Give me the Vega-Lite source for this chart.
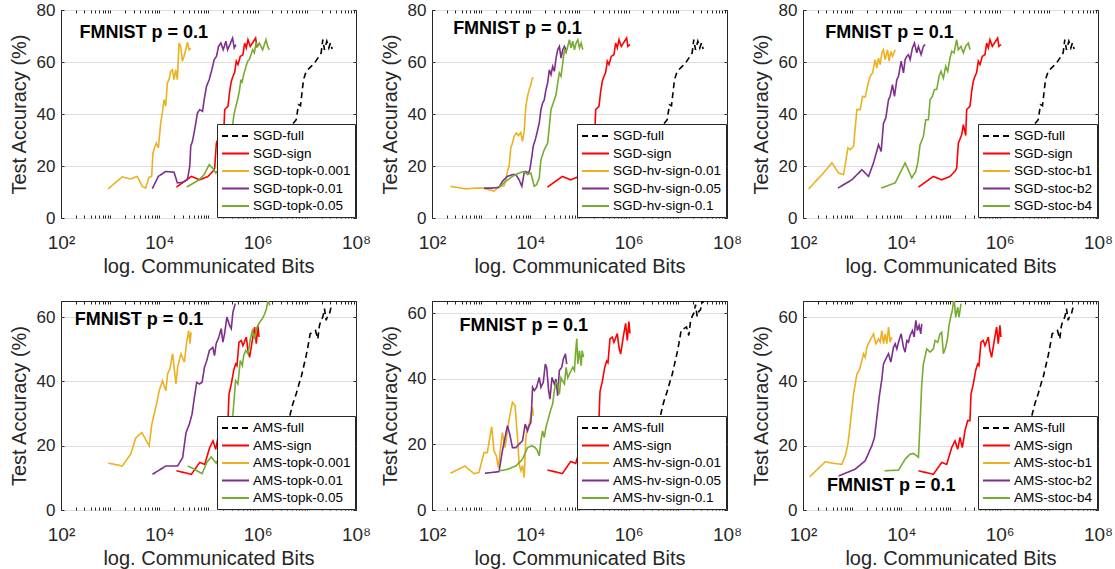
{
"$schema":"https://vega.github.io/schema/vega-lite/v6.json",
"padding":{"left":8,"top":0,"right":5,"bottom":5},
"background":"white",
"datasets":{
"sgd":[
{"s":"SGD-full","x":713000,"y":12},{"s":"SGD-full","x":1400000,"y":15},{"s":"SGD-full","x":2100000,"y":14.5},{"s":"SGD-full","x":3100000,"y":16},{"s":"SGD-full","x":4000000,"y":18},{"s":"SGD-full","x":4600000,"y":27},{"s":"SGD-full","x":5100000,"y":36},{"s":"SGD-full","x":6080000,"y":37.8},{"s":"SGD-full","x":6760000,"y":43.6},{"s":"SGD-full","x":7430000,"y":43.2},{"s":"SGD-full","x":8550000,"y":53.2},{"s":"SGD-full","x":9690000,"y":56.4},{"s":"SGD-full","x":12240000,"y":58.3},{"s":"SGD-full","x":14310000,"y":59.6},{"s":"SGD-full","x":16720000,"y":61.5},{"s":"SGD-full","x":19550000,"y":63.5},{"s":"SGD-full","x":21130000,"y":68.6},{"s":"SGD-full","x":22850000,"y":64.7},{"s":"SGD-full","x":25500000,"y":68},{"s":"SGD-full","x":28000000,"y":65.4},{"s":"SGD-full","x":30200000,"y":67.3},{"s":"SGD-full","x":32700000,"y":65},
{"s":"SGD-sign","x":22300,"y":11.9},{"s":"SGD-sign","x":44900,"y":16},{"s":"SGD-sign","x":66200,"y":14.7},{"s":"SGD-sign","x":98000,"y":16},{"s":"SGD-sign","x":123600,"y":18},{"s":"SGD-sign","x":133600,"y":19.2},{"s":"SGD-sign","x":144500,"y":28.8},{"s":"SGD-sign","x":168800,"y":32},{"s":"SGD-sign","x":182500,"y":35.9},{"s":"SGD-sign","x":203600,"y":31.7},{"s":"SGD-sign","x":213400,"y":41.7},{"s":"SGD-sign","x":249400,"y":43},{"s":"SGD-sign","x":269400,"y":48.7},{"s":"SGD-sign","x":291200,"y":52.6},{"s":"SGD-sign","x":314800,"y":54.5},{"s":"SGD-sign","x":340300,"y":56},{"s":"SGD-sign","x":368000,"y":60.3},{"s":"SGD-sign","x":398000,"y":59},{"s":"SGD-sign","x":443700,"y":62.2},{"s":"SGD-sign","x":502600,"y":62.8},{"s":"SGD-sign","x":543300,"y":67.3},{"s":"SGD-sign","x":587400,"y":65.4},{"s":"SGD-sign","x":635000,"y":68.6},{"s":"SGD-sign","x":708000,"y":66},{"s":"SGD-sign","x":802000,"y":67.6},{"s":"SGD-sign","x":908000,"y":69.2},{"s":"SGD-sign","x":966000,"y":66},{"s":"SGD-sign","x":1062000,"y":66.7}
],
"ams":[
{"s":"AMS-full","x":713000,"y":12},{"s":"AMS-full","x":1400000,"y":11},{"s":"AMS-full","x":2100000,"y":14},{"s":"AMS-full","x":3000000,"y":19},{"s":"AMS-full","x":4000000,"y":24.5},{"s":"AMS-full","x":4590000,"y":29.8},{"s":"AMS-full","x":5180000,"y":33},{"s":"AMS-full","x":6060000,"y":36.1},{"s":"AMS-full","x":7090000,"y":39.7},{"s":"AMS-full","x":7670000,"y":41.3},{"s":"AMS-full","x":8550000,"y":44.4},{"s":"AMS-full","x":9690000,"y":48},{"s":"AMS-full","x":10470000,"y":50.6},{"s":"AMS-full","x":11690000,"y":54.8},{"s":"AMS-full","x":13240000,"y":55.3},{"s":"AMS-full","x":15000000,"y":55.8},{"s":"AMS-full","x":16720000,"y":53.2},{"s":"AMS-full","x":18070000,"y":57.4},{"s":"AMS-full","x":19550000,"y":59},{"s":"AMS-full","x":21130000,"y":60},{"s":"AMS-full","x":22850000,"y":62.6},{"s":"AMS-full","x":24700000,"y":59},{"s":"AMS-full","x":26700000,"y":60.5},{"s":"AMS-full","x":28800000,"y":61},{"s":"AMS-full","x":31200000,"y":63.1},{"s":"AMS-full","x":33700000,"y":63.6},
{"s":"AMS-sign","x":22280,"y":12.2},{"s":"AMS-sign","x":44870,"y":11.1},{"s":"AMS-sign","x":66240,"y":14.8},{"s":"AMS-sign","x":83740,"y":14.2},{"s":"AMS-sign","x":105700,"y":19.4},{"s":"AMS-sign","x":123600,"y":21.5},{"s":"AMS-sign","x":139900,"y":18.9},{"s":"AMS-sign","x":156100,"y":22.6},{"s":"AMS-sign","x":174100,"y":19.4},{"s":"AMS-sign","x":197200,"y":24.6},{"s":"AMS-sign","x":223400,"y":27.8},{"s":"AMS-sign","x":249000,"y":27.8},{"s":"AMS-sign","x":261200,"y":36.1},{"s":"AMS-sign","x":291200,"y":39.2},{"s":"AMS-sign","x":325100,"y":43.4},{"s":"AMS-sign","x":356500,"y":45.4},{"s":"AMS-sign","x":379300,"y":44.9},{"s":"AMS-sign","x":416900,"y":52.2},{"s":"AMS-sign","x":464500,"y":52.7},{"s":"AMS-sign","x":502300,"y":51.1},{"s":"AMS-sign","x":587400,"y":53.8},{"s":"AMS-sign","x":634000,"y":49.6},{"s":"AMS-sign","x":685500,"y":47.5},{"s":"AMS-sign","x":776600,"y":52.7},{"s":"AMS-sign","x":867000,"y":56.9},{"s":"AMS-sign","x":937300,"y":51.7},{"s":"AMS-sign","x":1012000,"y":57.4},{"s":"AMS-sign","x":1062000,"y":53.8}
],
"p1":[
{"s":"SGD-topk-0.001","x":910,"y":11.2},{"s":"SGD-topk-0.001","x":1758,"y":15.8},{"s":"SGD-topk-0.001","x":2600,"y":15},{"s":"SGD-topk-0.001","x":3557,"y":16},{"s":"SGD-topk-0.001","x":4497,"y":12.2},{"s":"SGD-topk-0.001","x":5260,"y":11.5},{"s":"SGD-topk-0.001","x":6150,"y":15.6},{"s":"SGD-topk-0.001","x":6980,"y":16},{"s":"SGD-topk-0.001","x":7430,"y":25},{"s":"SGD-topk-0.001","x":8170,"y":27.6},{"s":"SGD-topk-0.001","x":8690,"y":28.8},{"s":"SGD-topk-0.001","x":9550,"y":27},{"s":"SGD-topk-0.001","x":10650,"y":36.5},{"s":"SGD-topk-0.001","x":11510,"y":40.4},{"s":"SGD-topk-0.001","x":12450,"y":45.5},{"s":"SGD-topk-0.001","x":13460,"y":43},{"s":"SGD-topk-0.001","x":14560,"y":51.9},{"s":"SGD-topk-0.001","x":15740,"y":53.2},{"s":"SGD-topk-0.001","x":17030,"y":56.4},{"s":"SGD-topk-0.001","x":18410,"y":57},{"s":"SGD-topk-0.001","x":19910,"y":53.2},{"s":"SGD-topk-0.001","x":21530,"y":57},{"s":"SGD-topk-0.001","x":23280,"y":53.2},{"s":"SGD-topk-0.001","x":25170,"y":67.3},{"s":"SGD-topk-0.001","x":27220,"y":66},{"s":"SGD-topk-0.001","x":29430,"y":60.3},{"s":"SGD-topk-0.001","x":31830,"y":62.2},{"s":"SGD-topk-0.001","x":34420,"y":64.7},{"s":"SGD-topk-0.001","x":37220,"y":67.6},{"s":"SGD-topk-0.001","x":40250,"y":64.7},{"s":"SGD-topk-0.001","x":43520,"y":65.4},
{"s":"SGD-topk-0.01","x":7190,"y":11.3},{"s":"SGD-topk-0.01","x":9550,"y":16},{"s":"SGD-topk-0.01","x":13460,"y":17.9},{"s":"SGD-topk-0.01","x":19910,"y":17.6},{"s":"SGD-topk-0.01","x":23280,"y":13.5},{"s":"SGD-topk-0.01","x":29430,"y":13.7},{"s":"SGD-topk-0.01","x":37220,"y":14.7},{"s":"SGD-topk-0.01","x":41590,"y":19.9},{"s":"SGD-topk-0.01","x":43520,"y":27.6},{"s":"SGD-topk-0.01","x":47100,"y":29.5},{"s":"SGD-topk-0.01","x":50930,"y":32.7},{"s":"SGD-topk-0.01","x":55080,"y":36.5},{"s":"SGD-topk-0.01","x":59660,"y":40.4},{"s":"SGD-topk-0.01","x":66530,"y":41.7},{"s":"SGD-topk-0.01","x":75510,"y":41},{"s":"SGD-topk-0.01","x":81660,"y":45.5},{"s":"SGD-topk-0.01","x":91010,"y":50.6},{"s":"SGD-topk-0.01","x":103200,"y":53.2},{"s":"SGD-topk-0.01","x":117000,"y":57},{"s":"SGD-topk-0.01","x":130600,"y":60.9},{"s":"SGD-topk-0.01","x":145600,"y":62.2},{"s":"SGD-topk-0.01","x":160000,"y":66},{"s":"SGD-topk-0.01","x":178600,"y":67.3},{"s":"SGD-topk-0.01","x":199100,"y":64.7},{"s":"SGD-topk-0.01","x":225900,"y":68},{"s":"SGD-topk-0.01","x":244300,"y":64.7},{"s":"SGD-topk-0.01","x":272300,"y":66.7},{"s":"SGD-topk-0.01","x":309000,"y":69.2},{"s":"SGD-topk-0.01","x":334200,"y":65.4},{"s":"SGD-topk-0.01","x":361400,"y":66.7},
{"s":"SGD-topk-0.05","x":36150,"y":11.9},{"s":"SGD-topk-0.05","x":64570,"y":14.7},{"s":"SGD-topk-0.05","x":81660,"y":16.7},{"s":"SGD-topk-0.05","x":103200,"y":20.5},{"s":"SGD-topk-0.05","x":120800,"y":19.2},{"s":"SGD-topk-0.05","x":141200,"y":17.3},{"s":"SGD-topk-0.05","x":160000,"y":18.6},{"s":"SGD-topk-0.05","x":193200,"y":19.9},{"s":"SGD-topk-0.05","x":233000,"y":23.7},{"s":"SGD-topk-0.05","x":264100,"y":30.1},{"s":"SGD-topk-0.05","x":309000,"y":35.9},{"s":"SGD-topk-0.05","x":334200,"y":40.4},{"s":"SGD-topk-0.05","x":361400,"y":43},{"s":"SGD-topk-0.05","x":390900,"y":45.5},{"s":"SGD-topk-0.05","x":422700,"y":48.7},{"s":"SGD-topk-0.05","x":457100,"y":53.2},{"s":"SGD-topk-0.05","x":478700,"y":51.9},{"s":"SGD-topk-0.05","x":509600,"y":54.5},{"s":"SGD-topk-0.05","x":578000,"y":58.3},{"s":"SGD-topk-0.05","x":625300,"y":60.3},{"s":"SGD-topk-0.05","x":676100,"y":60.9},{"s":"SGD-topk-0.05","x":731100,"y":62.8},{"s":"SGD-topk-0.05","x":790600,"y":64.7},{"s":"SGD-topk-0.05","x":855000,"y":63.5},{"s":"SGD-topk-0.05","x":924700,"y":67.3},{"s":"SGD-topk-0.05","x":1000000,"y":66},{"s":"SGD-topk-0.05","x":1081000,"y":67.3},{"s":"SGD-topk-0.05","x":1264000,"y":64.7},{"s":"SGD-topk-0.05","x":1479000,"y":68.6},{"s":"SGD-topk-0.05","x":1600000,"y":66},{"s":"SGD-topk-0.05","x":1730000,"y":64.7}
],
"p2":[
{"s":"SGD-hv-sign-0.01","x":237,"y":12.2},{"s":"SGD-hv-sign-0.01","x":481,"y":11.2},{"s":"SGD-hv-sign-0.01","x":770,"y":11.5},{"s":"SGD-hv-sign-0.01","x":1052,"y":11.5},{"s":"SGD-hv-sign-0.01","x":1441,"y":10.9},{"s":"SGD-hv-sign-0.01","x":1825,"y":10.3},{"s":"SGD-hv-sign-0.01","x":2308,"y":12.1},{"s":"SGD-hv-sign-0.01","x":2922,"y":12.4},{"s":"SGD-hv-sign-0.01","x":3162,"y":14.7},{"s":"SGD-hv-sign-0.01","x":3420,"y":17.9},{"s":"SGD-hv-sign-0.01","x":3699,"y":19.9},{"s":"SGD-hv-sign-0.01","x":4000,"y":26.9},{"s":"SGD-hv-sign-0.01","x":4326,"y":28.8},{"s":"SGD-hv-sign-0.01","x":4678,"y":31.4},{"s":"SGD-hv-sign-0.01","x":5224,"y":32.7},{"s":"SGD-hv-sign-0.01","x":5740,"y":31.7},{"s":"SGD-hv-sign-0.01","x":6398,"y":32.9},{"s":"SGD-hv-sign-0.01","x":6922,"y":29.5},{"s":"SGD-hv-sign-0.01","x":7492,"y":33.3},{"s":"SGD-hv-sign-0.01","x":8110,"y":43},{"s":"SGD-hv-sign-0.01","x":8770,"y":46.8},{"s":"SGD-hv-sign-0.01","x":9485,"y":49.4},{"s":"SGD-hv-sign-0.01","x":10260,"y":51.3},{"s":"SGD-hv-sign-0.01","x":10750,"y":53.2},{"s":"SGD-hv-sign-0.01","x":11450,"y":54.2},
{"s":"SGD-hv-sign-0.05","x":1140,"y":11.5},{"s":"SGD-hv-sign-0.05","x":1687,"y":11.5},{"s":"SGD-hv-sign-0.05","x":2308,"y":11.8},{"s":"SGD-hv-sign-0.05","x":2698,"y":14.1},{"s":"SGD-hv-sign-0.05","x":3420,"y":16},{"s":"SGD-hv-sign-0.05","x":4326,"y":16.7},{"s":"SGD-hv-sign-0.05","x":5058,"y":16.7},{"s":"SGD-hv-sign-0.05","x":5916,"y":14.7},{"s":"SGD-hv-sign-0.05","x":6712,"y":12.2},{"s":"SGD-hv-sign-0.05","x":7492,"y":17.3},{"s":"SGD-hv-sign-0.05","x":8110,"y":17.9},{"s":"SGD-hv-sign-0.05","x":9187,"y":17.3},{"s":"SGD-hv-sign-0.05","x":9780,"y":18.6},{"s":"SGD-hv-sign-0.05","x":10750,"y":23.7},{"s":"SGD-hv-sign-0.05","x":11450,"y":27.6},{"s":"SGD-hv-sign-0.05","x":12590,"y":30.1},{"s":"SGD-hv-sign-0.05","x":13400,"y":32.1},{"s":"SGD-hv-sign-0.05","x":15180,"y":36.5},{"s":"SGD-hv-sign-0.05","x":16420,"y":41.7},{"s":"SGD-hv-sign-0.05","x":17770,"y":44.2},{"s":"SGD-hv-sign-0.05","x":19220,"y":45.5},{"s":"SGD-hv-sign-0.05","x":20790,"y":49.4},{"s":"SGD-hv-sign-0.05","x":22490,"y":51.9},{"s":"SGD-hv-sign-0.05","x":24330,"y":57},{"s":"SGD-hv-sign-0.05","x":26320,"y":55.1},{"s":"SGD-hv-sign-0.05","x":28470,"y":58.3},{"s":"SGD-hv-sign-0.05","x":30790,"y":56.4},{"s":"SGD-hv-sign-0.05","x":33300,"y":61.5},{"s":"SGD-hv-sign-0.05","x":36020,"y":64.7},{"s":"SGD-hv-sign-0.05","x":38960,"y":66},{"s":"SGD-hv-sign-0.05","x":42140,"y":61.5},{"s":"SGD-hv-sign-0.05","x":45580,"y":64.7},{"s":"SGD-hv-sign-0.05","x":49300,"y":66},{"s":"SGD-hv-sign-0.05","x":53330,"y":64.7},
{"s":"SGD-hv-sign-0.1","x":2308,"y":11.8},{"s":"SGD-hv-sign-0.1","x":3162,"y":14.1},{"s":"SGD-hv-sign-0.1","x":4326,"y":16},{"s":"SGD-hv-sign-0.1","x":5916,"y":17.3},{"s":"SGD-hv-sign-0.1","x":7492,"y":17.9},{"s":"SGD-hv-sign-0.1","x":8770,"y":16.7},{"s":"SGD-hv-sign-0.1","x":10260,"y":17.3},{"s":"SGD-hv-sign-0.1","x":12000,"y":12.2},{"s":"SGD-hv-sign-0.1","x":13400,"y":12.8},{"s":"SGD-hv-sign-0.1","x":15180,"y":15.4},{"s":"SGD-hv-sign-0.1","x":16420,"y":22.4},{"s":"SGD-hv-sign-0.1","x":19220,"y":26.3},{"s":"SGD-hv-sign-0.1","x":22490,"y":28.8},{"s":"SGD-hv-sign-0.1","x":24330,"y":35.3},{"s":"SGD-hv-sign-0.1","x":26320,"y":41.7},{"s":"SGD-hv-sign-0.1","x":30790,"y":45.5},{"s":"SGD-hv-sign-0.1","x":33300,"y":47.4},{"s":"SGD-hv-sign-0.1","x":36020,"y":51.9},{"s":"SGD-hv-sign-0.1","x":38960,"y":55.8},{"s":"SGD-hv-sign-0.1","x":42140,"y":54.5},{"s":"SGD-hv-sign-0.1","x":45580,"y":59.6},{"s":"SGD-hv-sign-0.1","x":49300,"y":64.7},{"s":"SGD-hv-sign-0.1","x":53330,"y":63.5},{"s":"SGD-hv-sign-0.1","x":57680,"y":66},{"s":"SGD-hv-sign-0.1","x":62390,"y":68.6},{"s":"SGD-hv-sign-0.1","x":67490,"y":65.4},{"s":"SGD-hv-sign-0.1","x":72990,"y":68},{"s":"SGD-hv-sign-0.1","x":78950,"y":64.7},{"s":"SGD-hv-sign-0.1","x":85400,"y":67.3},{"s":"SGD-hv-sign-0.1","x":92370,"y":68.6},{"s":"SGD-hv-sign-0.1","x":99900,"y":65.4},{"s":"SGD-hv-sign-0.1","x":108000,"y":67.3},{"s":"SGD-hv-sign-0.1","x":116800,"y":64.7}
],
"p3":[
{"s":"SGD-stoc-b1","x":130,"y":11.2},{"s":"SGD-stoc-b1","x":243,"y":16.7},{"s":"SGD-stoc-b1","x":388,"y":21.2},{"s":"SGD-stoc-b1","x":530,"y":17.3},{"s":"SGD-stoc-b1","x":669,"y":16.7},{"s":"SGD-stoc-b1","x":818,"y":26.9},{"s":"SGD-stoc-b1","x":914,"y":26.3},{"s":"SGD-stoc-b1","x":1067,"y":27.6},{"s":"SGD-stoc-b1","x":1247,"y":41.7},{"s":"SGD-stoc-b1","x":1458,"y":41.7},{"s":"SGD-stoc-b1","x":1626,"y":46.8},{"s":"SGD-stoc-b1","x":1842,"y":46.5},{"s":"SGD-stoc-b1","x":2086,"y":51.3},{"s":"SGD-stoc-b1","x":2328,"y":54.5},{"s":"SGD-stoc-b1","x":2596,"y":55.8},{"s":"SGD-stoc-b1","x":2938,"y":60.9},{"s":"SGD-stoc-b1","x":3177,"y":57.7},{"s":"SGD-stoc-b1","x":3436,"y":61.5},{"s":"SGD-stoc-b1","x":3715,"y":59},{"s":"SGD-stoc-b1","x":4018,"y":63.5},{"s":"SGD-stoc-b1","x":4339,"y":64.7},{"s":"SGD-stoc-b1","x":4692,"y":60.9},{"s":"SGD-stoc-b1","x":5234,"y":64.7},{"s":"SGD-stoc-b1","x":5652,"y":60.3},{"s":"SGD-stoc-b1","x":6115,"y":64.1},{"s":"SGD-stoc-b1","x":6607,"y":62.2},{"s":"SGD-stoc-b1","x":7482,"y":64.7},
{"s":"SGD-stoc-b2","x":513,"y":11.5},{"s":"SGD-stoc-b2","x":988,"y":14.7},{"s":"SGD-stoc-b2","x":1578,"y":18.6},{"s":"SGD-stoc-b2","x":2153,"y":16},{"s":"SGD-stoc-b2","x":2719,"y":21.2},{"s":"SGD-stoc-b2","x":3436,"y":28.2},{"s":"SGD-stoc-b2","x":3890,"y":25.6},{"s":"SGD-stoc-b2","x":4339,"y":36.5},{"s":"SGD-stoc-b2","x":4839,"y":38.5},{"s":"SGD-stoc-b2","x":5483,"y":45.5},{"s":"SGD-stoc-b2","x":5929,"y":46.8},{"s":"SGD-stoc-b2","x":6607,"y":51.3},{"s":"SGD-stoc-b2","x":7258,"y":46.8},{"s":"SGD-stoc-b2","x":8095,"y":53.2},{"s":"SGD-stoc-b2","x":8752,"y":54.5},{"s":"SGD-stoc-b2","x":9908,"y":60.3},{"s":"SGD-stoc-b2","x":11050,"y":55.8},{"s":"SGD-stoc-b2","x":11940,"y":60.9},{"s":"SGD-stoc-b2","x":12910,"y":62.2},{"s":"SGD-stoc-b2","x":13960,"y":62.8},{"s":"SGD-stoc-b2","x":15100,"y":60.9},{"s":"SGD-stoc-b2","x":16840,"y":65.4},{"s":"SGD-stoc-b2","x":18490,"y":67.3},{"s":"SGD-stoc-b2","x":20610,"y":63.5},{"s":"SGD-stoc-b2","x":22280,"y":66},{"s":"SGD-stoc-b2","x":25230,"y":62.8},{"s":"SGD-stoc-b2","x":28120,"y":66},{"s":"SGD-stoc-b2","x":30410,"y":66.7},
{"s":"SGD-stoc-b4","x":3890,"y":11.5},{"s":"SGD-stoc-b4","x":7482,"y":13.5},{"s":"SGD-stoc-b4","x":11940,"y":21.2},{"s":"SGD-stoc-b4","x":16300,"y":15.4},{"s":"SGD-stoc-b4","x":19680,"y":17.9},{"s":"SGD-stoc-b4","x":21580,"y":21.2},{"s":"SGD-stoc-b4","x":24090,"y":28.2},{"s":"SGD-stoc-b4","x":28120,"y":31.4},{"s":"SGD-stoc-b4","x":31410,"y":37.8},{"s":"SGD-stoc-b4","x":35560,"y":37.8},{"s":"SGD-stoc-b4","x":38450,"y":45.5},{"s":"SGD-stoc-b4","x":42850,"y":46.8},{"s":"SGD-stoc-b4","x":47100,"y":49.4},{"s":"SGD-stoc-b4","x":52480,"y":49.4},{"s":"SGD-stoc-b4","x":58480,"y":54.5},{"s":"SGD-stoc-b4","x":64270,"y":56.4},{"s":"SGD-stoc-b4","x":71610,"y":53.8},{"s":"SGD-stoc-b4","x":79980,"y":58.3},{"s":"SGD-stoc-b4","x":87700,"y":56.4},{"s":"SGD-stoc-b4","x":97700,"y":61.5},{"s":"SGD-stoc-b4","x":105700,"y":64.1},{"s":"SGD-stoc-b4","x":118000,"y":63.5},{"s":"SGD-stoc-b4","x":133400,"y":68.6},{"s":"SGD-stoc-b4","x":144200,"y":64.7},{"s":"SGD-stoc-b4","x":163600,"y":66},{"s":"SGD-stoc-b4","x":182400,"y":63.5},{"s":"SGD-stoc-b4","x":203200,"y":66},{"s":"SGD-stoc-b4","x":230700,"y":67.3},{"s":"SGD-stoc-b4","x":249500,"y":64.7}
],
"p4":[
{"s":"AMS-topk-0.001","x":914,"y":14.6},{"s":"AMS-topk-0.001","x":1766,"y":13.7},{"s":"AMS-topk-0.001","x":2618,"y":17.4},{"s":"AMS-topk-0.001","x":3311,"y":22.4},{"s":"AMS-topk-0.001","x":4397,"y":24.1},{"s":"AMS-topk-0.001","x":6209,"y":20},{"s":"AMS-topk-0.001","x":7037,"y":26.7},{"s":"AMS-topk-0.001","x":7854,"y":29.8},{"s":"AMS-topk-0.001","x":8767,"y":33},{"s":"AMS-topk-0.001","x":9938,"y":37.1},{"s":"AMS-topk-0.001","x":11620,"y":40.2},{"s":"AMS-topk-0.001","x":13610,"y":37.1},{"s":"AMS-topk-0.001","x":14720,"y":42.3},{"s":"AMS-topk-0.001","x":16420,"y":43.9},{"s":"AMS-topk-0.001","x":18620,"y":48.6},{"s":"AMS-topk-0.001","x":21780,"y":39.2},{"s":"AMS-topk-0.001","x":23550,"y":44.4},{"s":"AMS-topk-0.001","x":27540,"y":48.6},{"s":"AMS-topk-0.001","x":32260,"y":46},{"s":"AMS-topk-0.001","x":35980,"y":52.2},{"s":"AMS-topk-0.001","x":39540,"y":55.8},{"s":"AMS-topk-0.001","x":42100,"y":51.7},{"s":"AMS-topk-0.001","x":44120,"y":55.3},
{"s":"AMS-topk-0.01","x":7262,"y":11.1},{"s":"AMS-topk-0.01","x":13610,"y":13.7},{"s":"AMS-topk-0.01","x":23550,"y":13.7},{"s":"AMS-topk-0.01","x":29780,"y":16.3},{"s":"AMS-topk-0.01","x":34910,"y":24.1},{"s":"AMS-topk-0.01","x":40820,"y":26.7},{"s":"AMS-topk-0.01","x":46240,"y":29.8},{"s":"AMS-topk-0.01","x":51630,"y":35},{"s":"AMS-topk-0.01","x":57660,"y":39.7},{"s":"AMS-topk-0.01","x":65350,"y":39.2},{"s":"AMS-topk-0.01","x":74070,"y":39.7},{"s":"AMS-topk-0.01","x":82730,"y":44.4},{"s":"AMS-topk-0.01","x":92340,"y":46.5},{"s":"AMS-topk-0.01","x":104500,"y":49.6},{"s":"AMS-topk-0.01","x":113100,"y":50.1},{"s":"AMS-topk-0.01","x":122300,"y":50.6},{"s":"AMS-topk-0.01","x":132300,"y":48},{"s":"AMS-topk-0.01","x":143100,"y":51.7},{"s":"AMS-topk-0.01","x":162400,"y":53.8},{"s":"AMS-topk-0.01","x":181200,"y":56.4},{"s":"AMS-topk-0.01","x":196000,"y":52.2},{"s":"AMS-topk-0.01","x":212200,"y":54.8},{"s":"AMS-topk-0.01","x":236800,"y":60},{"s":"AMS-topk-0.01","x":268600,"y":57.4},{"s":"AMS-topk-0.01","x":290600,"y":56.4},{"s":"AMS-topk-0.01","x":314300,"y":61.6},{"s":"AMS-topk-0.01","x":350800,"y":64.2},
{"s":"AMS-topk-0.05","x":37780,"y":13.7},{"s":"AMS-topk-0.05","x":51630,"y":12.7},{"s":"AMS-topk-0.05","x":74070,"y":11.3},{"s":"AMS-topk-0.05","x":92340,"y":14.8},{"s":"AMS-topk-0.05","x":113200,"y":16.5},{"s":"AMS-topk-0.05","x":143100,"y":14.6},{"s":"AMS-topk-0.05","x":167500,"y":16.4},{"s":"AMS-topk-0.05","x":196000,"y":18.4},{"s":"AMS-topk-0.05","x":236800,"y":21.5},{"s":"AMS-topk-0.05","x":276900,"y":26.7},{"s":"AMS-topk-0.05","x":314300,"y":29.8},{"s":"AMS-topk-0.05","x":355500,"y":40.2},{"s":"AMS-topk-0.05","x":396900,"y":39.2},{"s":"AMS-topk-0.05","x":443500,"y":46.5},{"s":"AMS-topk-0.05","x":487500,"y":44.9},{"s":"AMS-topk-0.05","x":518900,"y":48},{"s":"AMS-topk-0.05","x":570400,"y":49.6},{"s":"AMS-topk-0.05","x":636600,"y":48.6},{"s":"AMS-topk-0.05","x":710300,"y":53.2},{"s":"AMS-topk-0.05","x":780400,"y":55.8},{"s":"AMS-topk-0.05","x":871000,"y":53.2},{"s":"AMS-topk-0.05","x":972300,"y":56.9},{"s":"AMS-topk-0.05","x":1099000,"y":58.4},{"s":"AMS-topk-0.05","x":1247000,"y":59.5},{"s":"AMS-topk-0.05","x":1392000,"y":61},{"s":"AMS-topk-0.05","x":1507000,"y":62.6},{"s":"AMS-topk-0.05","x":1630000,"y":65.2},{"s":"AMS-topk-0.05","x":1766000,"y":63.6}
],
"p5":[
{"s":"AMS-hv-sign-0.01","x":237,"y":11.2},{"s":"AMS-hv-sign-0.01","x":466,"y":13.4},{"s":"AMS-hv-sign-0.01","x":711,"y":11.1},{"s":"AMS-hv-sign-0.01","x":900,"y":11.4},{"s":"AMS-hv-sign-0.01","x":1140,"y":17.5},{"s":"AMS-hv-sign-0.01","x":1333,"y":17.5},{"s":"AMS-hv-sign-0.01","x":1634,"y":25.4},{"s":"AMS-hv-sign-0.01","x":1823,"y":18},{"s":"AMS-hv-sign-0.01","x":2036,"y":16.5},{"s":"AMS-hv-sign-0.01","x":2238,"y":12.9},{"s":"AMS-hv-sign-0.01","x":2700,"y":23.6},{"s":"AMS-hv-sign-0.01","x":3060,"y":19},{"s":"AMS-hv-sign-0.01","x":3421,"y":24.1},{"s":"AMS-hv-sign-0.01","x":3814,"y":28.7},{"s":"AMS-hv-sign-0.01","x":4325,"y":32.8},{"s":"AMS-hv-sign-0.01","x":4907,"y":31.8},{"s":"AMS-hv-sign-0.01","x":5476,"y":22.1},{"s":"AMS-hv-sign-0.01","x":5920,"y":14},{"s":"AMS-hv-sign-0.01","x":6403,"y":12},{"s":"AMS-hv-sign-0.01","x":6928,"y":13.5},{"s":"AMS-hv-sign-0.01","x":7495,"y":9.9},{"s":"AMS-hv-sign-0.01","x":8109,"y":22.1},{"s":"AMS-hv-sign-0.01","x":8773,"y":25.2},{"s":"AMS-hv-sign-0.01","x":9492,"y":26.2},{"s":"AMS-hv-sign-0.01","x":10270,"y":28.7},{"s":"AMS-hv-sign-0.01","x":11110,"y":31.3},{"s":"AMS-hv-sign-0.01","x":11440,"y":28.7},
{"s":"AMS-hv-sign-0.05","x":1194,"y":11.2},{"s":"AMS-hv-sign-0.05","x":2308,"y":11.7},{"s":"AMS-hv-sign-0.05","x":2700,"y":18},{"s":"AMS-hv-sign-0.05","x":3421,"y":25.7},{"s":"AMS-hv-sign-0.05","x":3814,"y":23.1},{"s":"AMS-hv-sign-0.05","x":4325,"y":19},{"s":"AMS-hv-sign-0.05","x":5058,"y":19},{"s":"AMS-hv-sign-0.05","x":5920,"y":20.1},{"s":"AMS-hv-sign-0.05","x":6928,"y":21.1},{"s":"AMS-hv-sign-0.05","x":7856,"y":26.2},{"s":"AMS-hv-sign-0.05","x":8773,"y":24.1},{"s":"AMS-hv-sign-0.05","x":9492,"y":25.7},{"s":"AMS-hv-sign-0.05","x":10270,"y":26.7},{"s":"AMS-hv-sign-0.05","x":11110,"y":37.4},{"s":"AMS-hv-sign-0.05","x":12010,"y":36.4},{"s":"AMS-hv-sign-0.05","x":13400,"y":37.4},{"s":"AMS-hv-sign-0.05","x":15180,"y":40.4},{"s":"AMS-hv-sign-0.05","x":16420,"y":37.4},{"s":"AMS-hv-sign-0.05","x":18330,"y":38.9},{"s":"AMS-hv-sign-0.05","x":20140,"y":44.5},{"s":"AMS-hv-sign-0.05","x":21440,"y":43.5},{"s":"AMS-hv-sign-0.05","x":23560,"y":36.4},{"s":"AMS-hv-sign-0.05","x":25080,"y":33.8},{"s":"AMS-hv-sign-0.05","x":27550,"y":40.4},{"s":"AMS-hv-sign-0.05","x":30750,"y":38.4},{"s":"AMS-hv-sign-0.05","x":33300,"y":39.9},{"s":"AMS-hv-sign-0.05","x":35970,"y":34.8},{"s":"AMS-hv-sign-0.05","x":38930,"y":42.5},{"s":"AMS-hv-sign-0.05","x":43470,"y":43.5},{"s":"AMS-hv-sign-0.05","x":46980,"y":46},{"s":"AMS-hv-sign-0.05","x":51620,"y":47.6},{"s":"AMS-hv-sign-0.05","x":54990,"y":44.5},
{"s":"AMS-hv-sign-0.1","x":2308,"y":11.9},{"s":"AMS-hv-sign-0.1","x":3421,"y":12.4},{"s":"AMS-hv-sign-0.1","x":5058,"y":13.4},{"s":"AMS-hv-sign-0.1","x":6928,"y":15.5},{"s":"AMS-hv-sign-0.1","x":8773,"y":19},{"s":"AMS-hv-sign-0.1","x":10740,"y":19.6},{"s":"AMS-hv-sign-0.1","x":12590,"y":19},{"s":"AMS-hv-sign-0.1","x":14040,"y":18},{"s":"AMS-hv-sign-0.1","x":15180,"y":16.5},{"s":"AMS-hv-sign-0.1","x":16420,"y":21.1},{"s":"AMS-hv-sign-0.1","x":17770,"y":24.1},{"s":"AMS-hv-sign-0.1","x":19220,"y":22.1},{"s":"AMS-hv-sign-0.1","x":20790,"y":25.2},{"s":"AMS-hv-sign-0.1","x":23560,"y":28.2},{"s":"AMS-hv-sign-0.1","x":26310,"y":30.8},{"s":"AMS-hv-sign-0.1","x":28460,"y":32.3},{"s":"AMS-hv-sign-0.1","x":30750,"y":36.4},{"s":"AMS-hv-sign-0.1","x":33300,"y":38.9},{"s":"AMS-hv-sign-0.1","x":35970,"y":38.4},{"s":"AMS-hv-sign-0.1","x":38930,"y":35.3},{"s":"AMS-hv-sign-0.1","x":42100,"y":40.3},{"s":"AMS-hv-sign-0.1","x":45580,"y":39.3},{"s":"AMS-hv-sign-0.1","x":49310,"y":38.4},{"s":"AMS-hv-sign-0.1","x":53330,"y":43.5},{"s":"AMS-hv-sign-0.1","x":57690,"y":40.3},{"s":"AMS-hv-sign-0.1","x":62400,"y":41.4},{"s":"AMS-hv-sign-0.1","x":67500,"y":42.5},{"s":"AMS-hv-sign-0.1","x":73010,"y":43.5},{"s":"AMS-hv-sign-0.1","x":78980,"y":42.5},{"s":"AMS-hv-sign-0.1","x":82720,"y":47.6},{"s":"AMS-hv-sign-0.1","x":88100,"y":52.2},{"s":"AMS-hv-sign-0.1","x":92340,"y":44.5},{"s":"AMS-hv-sign-0.1","x":99800,"y":48.6},{"s":"AMS-hv-sign-0.1","x":107900,"y":44},{"s":"AMS-hv-sign-0.1","x":113200,"y":48.6},{"s":"AMS-hv-sign-0.1","x":120600,"y":46.6}
],
"p6":[
{"s":"AMS-stoc-b1","x":136,"y":10.3},{"s":"AMS-stoc-b1","x":284,"y":15},{"s":"AMS-stoc-b1","x":419,"y":14.5},{"s":"AMS-stoc-b1","x":619,"y":14.2},{"s":"AMS-stoc-b1","x":723,"y":16.8},{"s":"AMS-stoc-b1","x":819,"y":20.5},{"s":"AMS-stoc-b1","x":914,"y":26.7},{"s":"AMS-stoc-b1","x":1068,"y":36.1},{"s":"AMS-stoc-b1","x":1248,"y":42.3},{"s":"AMS-stoc-b1","x":1391,"y":43.4},{"s":"AMS-stoc-b1","x":1576,"y":46.5},{"s":"AMS-stoc-b1","x":1704,"y":48.6},{"s":"AMS-stoc-b1","x":1841,"y":47.5},{"s":"AMS-stoc-b1","x":1990,"y":50.6},{"s":"AMS-stoc-b1","x":2219,"y":52.2},{"s":"AMS-stoc-b1","x":2515,"y":53.8},{"s":"AMS-stoc-b1","x":2719,"y":54.8},{"s":"AMS-stoc-b1","x":3032,"y":51.7},{"s":"AMS-stoc-b1","x":3436,"y":53.2},{"s":"AMS-stoc-b1","x":3715,"y":52.2},{"s":"AMS-stoc-b1","x":4018,"y":55.8},{"s":"AMS-stoc-b1","x":4339,"y":51.7},{"s":"AMS-stoc-b1","x":4692,"y":54.8},{"s":"AMS-stoc-b1","x":5073,"y":51.7},{"s":"AMS-stoc-b1","x":5484,"y":56.9},{"s":"AMS-stoc-b1","x":5930,"y":52.2},{"s":"AMS-stoc-b1","x":6399,"y":53.8},
{"s":"AMS-stoc-b2","x":530,"y":10.6},{"s":"AMS-stoc-b2","x":1154,"y":12.7},{"s":"AMS-stoc-b2","x":1841,"y":15.3},{"s":"AMS-stoc-b2","x":2515,"y":20},{"s":"AMS-stoc-b2","x":2849,"y":22.6},{"s":"AMS-stoc-b2","x":3177,"y":28.8},{"s":"AMS-stoc-b2","x":3540,"y":35},{"s":"AMS-stoc-b2","x":4018,"y":40.8},{"s":"AMS-stoc-b2","x":4339,"y":45.4},{"s":"AMS-stoc-b2","x":4840,"y":47},{"s":"AMS-stoc-b2","x":5484,"y":48.6},{"s":"AMS-stoc-b2","x":6115,"y":46},{"s":"AMS-stoc-b2","x":6925,"y":50.6},{"s":"AMS-stoc-b2","x":7482,"y":51.7},{"s":"AMS-stoc-b2","x":8090,"y":50.1},{"s":"AMS-stoc-b2","x":8752,"y":52.2},{"s":"AMS-stoc-b2","x":9908,"y":54.8},{"s":"AMS-stoc-b2","x":11050,"y":50.6},{"s":"AMS-stoc-b2","x":11940,"y":49.1},{"s":"AMS-stoc-b2","x":12910,"y":52.7},{"s":"AMS-stoc-b2","x":13960,"y":52.2},{"s":"AMS-stoc-b2","x":15100,"y":54.3},{"s":"AMS-stoc-b2","x":16840,"y":55.8},{"s":"AMS-stoc-b2","x":18210,"y":53.8},{"s":"AMS-stoc-b2","x":19680,"y":59},{"s":"AMS-stoc-b2","x":21250,"y":55.8},{"s":"AMS-stoc-b2","x":22970,"y":57.4},{"s":"AMS-stoc-b2","x":24840,"y":54.8},{"s":"AMS-stoc-b2","x":26030,"y":57.9},
{"s":"AMS-stoc-b4","x":4549,"y":12.2},{"s":"AMS-stoc-b4","x":8752,"y":12.4},{"s":"AMS-stoc-b4","x":11940,"y":15.8},{"s":"AMS-stoc-b4","x":15100,"y":17.4},{"s":"AMS-stoc-b4","x":17620,"y":17.6},{"s":"AMS-stoc-b4","x":20610,"y":16.8},{"s":"AMS-stoc-b4","x":22280,"y":16.4},{"s":"AMS-stoc-b4","x":24090,"y":27.2},{"s":"AMS-stoc-b4","x":26030,"y":39.2},{"s":"AMS-stoc-b4","x":28120,"y":45.4},{"s":"AMS-stoc-b4","x":32860,"y":50.1},{"s":"AMS-stoc-b4","x":38450,"y":49.1},{"s":"AMS-stoc-b4","x":44870,"y":50.1},{"s":"AMS-stoc-b4","x":48520,"y":52.7},{"s":"AMS-stoc-b4","x":54990,"y":52.2},{"s":"AMS-stoc-b4","x":61340,"y":54.8},{"s":"AMS-stoc-b4","x":66240,"y":55.3},{"s":"AMS-stoc-b4","x":71610,"y":48.6},{"s":"AMS-stoc-b4","x":79980,"y":50.6},{"s":"AMS-stoc-b4","x":87700,"y":53.8},{"s":"AMS-stoc-b4","x":93330,"y":57.4},{"s":"AMS-stoc-b4","x":102500,"y":60.5},{"s":"AMS-stoc-b4","x":109100,"y":62.1},{"s":"AMS-stoc-b4","x":118000,"y":66},{"s":"AMS-stoc-b4","x":127500,"y":60},{"s":"AMS-stoc-b4","x":139900,"y":63.1},{"s":"AMS-stoc-b4","x":148900,"y":60},{"s":"AMS-stoc-b4","x":163600,"y":64.2}
]
},
"concat":[
{"width":295,"height":208,"layer":[
 {"data":{"name":"sgd"},"mark":{"type":"line","strokeWidth":1.6,"clip":true},"encoding":{
  "x":{"field":"x","type":"quantitative","scale":{"type":"log","domain":[100,100000000],"nice":false},"axis":{"orient":"bottom","values":[100,200,300,400,500,600,700,800,900,1000,2000,3000,4000,5000,6000,7000,8000,9000,10000,20000,30000,40000,50000,60000,70000,80000,90000,100000,200000,300000,400000,500000,600000,700000,800000,900000,1000000,2000000,3000000,4000000,5000000,6000000,7000000,8000000,9000000,10000000,20000000,30000000,40000000,50000000,60000000,70000000,80000000,90000000,100000000],"labelExpr":"datum.value==100?'10²':datum.value==10000?'10⁴':datum.value==1000000?'10⁶':datum.value==100000000?'10⁸':''","title":"log. Communicated Bits"}},
  "y":{"field":"y","type":"quantitative","scale":{"domain":[0,80],"nice":false},"axis":{"orient":"left","values":[0,20,40,60,80],"title":"Test Accuracy (%)"}},
  "color":{"field":"s","type":"nominal","scale":{"domain":["SGD-full","SGD-sign","SGD-topk-0.001","SGD-topk-0.01","SGD-topk-0.05"],"range":["#000000","#FF0000","#EDB120","#7E2F8E","#77AC30"]},"legend":{"title":null}},
  "strokeDash":{"field":"s","type":"nominal","scale":{"domain":["SGD-full","SGD-sign","SGD-topk-0.001","SGD-topk-0.01","SGD-topk-0.05"],"range":[[6,4],[1,0],[1,0],[1,0],[1,0]]},"legend":{"title":null}}}},
 {"data":{"name":"p1"},"mark":{"type":"line","strokeWidth":1.6,"clip":true},"encoding":{
  "x":{"field":"x","type":"quantitative","scale":{"type":"log","domain":[100,100000000],"nice":false},"axis":{"orient":"top","values":[100,200,300,400,500,600,700,800,900,1000,2000,3000,4000,5000,6000,7000,8000,9000,10000,20000,30000,40000,50000,60000,70000,80000,90000,100000,200000,300000,400000,500000,600000,700000,800000,900000,1000000,2000000,3000000,4000000,5000000,6000000,7000000,8000000,9000000,10000000,20000000,30000000,40000000,50000000,60000000,70000000,80000000,90000000,100000000],"labels":false,"title":null,"grid":false}},
  "y":{"field":"y","type":"quantitative","scale":{"domain":[0,80],"nice":false},"axis":{"orient":"right","values":[0,20,40,60,80],"labels":false,"title":null,"grid":false}},
  "color":{"field":"s","type":"nominal","scale":{"domain":["SGD-full","SGD-sign","SGD-topk-0.001","SGD-topk-0.01","SGD-topk-0.05"],"range":["#000000","#FF0000","#EDB120","#7E2F8E","#77AC30"]},"legend":{"title":null}},
  "strokeDash":{"field":"s","type":"nominal","scale":{"domain":["SGD-full","SGD-sign","SGD-topk-0.001","SGD-topk-0.01","SGD-topk-0.05"],"range":[[6,4],[1,0],[1,0],[1,0],[1,0]]},"legend":{"title":null}}}},
 {"data":{"values":[{}]},"mark":{"type":"text","text":"FMNIST p = 0.1","fontSize":18,"fontWeight":"bold","align":"left","baseline":"middle","color":"#000000"},"encoding":{"x":{"datum":237,"type":"quantitative","axis":null},"y":{"datum":71.2,"type":"quantitative","axis":null}}}
],"resolve":{"axis":{"x":"independent","y":"independent"}}},
{"width":295,"height":208,"layer":[
 {"data":{"name":"sgd"},"mark":{"type":"line","strokeWidth":1.6,"clip":true},"encoding":{
  "x":{"field":"x","type":"quantitative","scale":{"type":"log","domain":[100,100000000],"nice":false},"axis":{"orient":"bottom","values":[100,200,300,400,500,600,700,800,900,1000,2000,3000,4000,5000,6000,7000,8000,9000,10000,20000,30000,40000,50000,60000,70000,80000,90000,100000,200000,300000,400000,500000,600000,700000,800000,900000,1000000,2000000,3000000,4000000,5000000,6000000,7000000,8000000,9000000,10000000,20000000,30000000,40000000,50000000,60000000,70000000,80000000,90000000,100000000],"labelExpr":"datum.value==100?'10²':datum.value==10000?'10⁴':datum.value==1000000?'10⁶':datum.value==100000000?'10⁸':''","title":"log. Communicated Bits"}},
  "y":{"field":"y","type":"quantitative","scale":{"domain":[0,80],"nice":false},"axis":{"orient":"left","values":[0,20,40,60,80],"title":"Test Accuracy (%)"}},
  "color":{"field":"s","type":"nominal","scale":{"domain":["SGD-full","SGD-sign","SGD-hv-sign-0.01","SGD-hv-sign-0.05","SGD-hv-sign-0.1"],"range":["#000000","#FF0000","#EDB120","#7E2F8E","#77AC30"]},"legend":{"title":null}},
  "strokeDash":{"field":"s","type":"nominal","scale":{"domain":["SGD-full","SGD-sign","SGD-hv-sign-0.01","SGD-hv-sign-0.05","SGD-hv-sign-0.1"],"range":[[6,4],[1,0],[1,0],[1,0],[1,0]]},"legend":{"title":null}}}},
 {"data":{"name":"p2"},"mark":{"type":"line","strokeWidth":1.6,"clip":true},"encoding":{
  "x":{"field":"x","type":"quantitative","scale":{"type":"log","domain":[100,100000000],"nice":false},"axis":{"orient":"top","values":[100,200,300,400,500,600,700,800,900,1000,2000,3000,4000,5000,6000,7000,8000,9000,10000,20000,30000,40000,50000,60000,70000,80000,90000,100000,200000,300000,400000,500000,600000,700000,800000,900000,1000000,2000000,3000000,4000000,5000000,6000000,7000000,8000000,9000000,10000000,20000000,30000000,40000000,50000000,60000000,70000000,80000000,90000000,100000000],"labels":false,"title":null,"grid":false}},
  "y":{"field":"y","type":"quantitative","scale":{"domain":[0,80],"nice":false},"axis":{"orient":"right","values":[0,20,40,60,80],"labels":false,"title":null,"grid":false}},
  "color":{"field":"s","type":"nominal","scale":{"domain":["SGD-full","SGD-sign","SGD-hv-sign-0.01","SGD-hv-sign-0.05","SGD-hv-sign-0.1"],"range":["#000000","#FF0000","#EDB120","#7E2F8E","#77AC30"]},"legend":{"title":null}},
  "strokeDash":{"field":"s","type":"nominal","scale":{"domain":["SGD-full","SGD-sign","SGD-hv-sign-0.01","SGD-hv-sign-0.05","SGD-hv-sign-0.1"],"range":[[6,4],[1,0],[1,0],[1,0],[1,0]]},"legend":{"title":null}}}},
 {"data":{"values":[{}]},"mark":{"type":"text","text":"FMNIST p = 0.1","fontSize":18,"fontWeight":"bold","align":"left","baseline":"middle","color":"#000000"},"encoding":{"x":{"datum":269,"type":"quantitative","axis":null},"y":{"datum":72.7,"type":"quantitative","axis":null}}}
],"resolve":{"axis":{"x":"independent","y":"independent"}}},
{"width":295,"height":208,"layer":[
 {"data":{"name":"sgd"},"mark":{"type":"line","strokeWidth":1.6,"clip":true},"encoding":{
  "x":{"field":"x","type":"quantitative","scale":{"type":"log","domain":[100,100000000],"nice":false},"axis":{"orient":"bottom","values":[100,200,300,400,500,600,700,800,900,1000,2000,3000,4000,5000,6000,7000,8000,9000,10000,20000,30000,40000,50000,60000,70000,80000,90000,100000,200000,300000,400000,500000,600000,700000,800000,900000,1000000,2000000,3000000,4000000,5000000,6000000,7000000,8000000,9000000,10000000,20000000,30000000,40000000,50000000,60000000,70000000,80000000,90000000,100000000],"labelExpr":"datum.value==100?'10²':datum.value==10000?'10⁴':datum.value==1000000?'10⁶':datum.value==100000000?'10⁸':''","title":"log. Communicated Bits"}},
  "y":{"field":"y","type":"quantitative","scale":{"domain":[0,80],"nice":false},"axis":{"orient":"left","values":[0,20,40,60,80],"title":"Test Accuracy (%)"}},
  "color":{"field":"s","type":"nominal","scale":{"domain":["SGD-full","SGD-sign","SGD-stoc-b1","SGD-stoc-b2","SGD-stoc-b4"],"range":["#000000","#FF0000","#EDB120","#7E2F8E","#77AC30"]},"legend":{"title":null}},
  "strokeDash":{"field":"s","type":"nominal","scale":{"domain":["SGD-full","SGD-sign","SGD-stoc-b1","SGD-stoc-b2","SGD-stoc-b4"],"range":[[6,4],[1,0],[1,0],[1,0],[1,0]]},"legend":{"title":null}}}},
 {"data":{"name":"p3"},"mark":{"type":"line","strokeWidth":1.6,"clip":true},"encoding":{
  "x":{"field":"x","type":"quantitative","scale":{"type":"log","domain":[100,100000000],"nice":false},"axis":{"orient":"top","values":[100,200,300,400,500,600,700,800,900,1000,2000,3000,4000,5000,6000,7000,8000,9000,10000,20000,30000,40000,50000,60000,70000,80000,90000,100000,200000,300000,400000,500000,600000,700000,800000,900000,1000000,2000000,3000000,4000000,5000000,6000000,7000000,8000000,9000000,10000000,20000000,30000000,40000000,50000000,60000000,70000000,80000000,90000000,100000000],"labels":false,"title":null,"grid":false}},
  "y":{"field":"y","type":"quantitative","scale":{"domain":[0,80],"nice":false},"axis":{"orient":"right","values":[0,20,40,60,80],"labels":false,"title":null,"grid":false}},
  "color":{"field":"s","type":"nominal","scale":{"domain":["SGD-full","SGD-sign","SGD-stoc-b1","SGD-stoc-b2","SGD-stoc-b4"],"range":["#000000","#FF0000","#EDB120","#7E2F8E","#77AC30"]},"legend":{"title":null}},
  "strokeDash":{"field":"s","type":"nominal","scale":{"domain":["SGD-full","SGD-sign","SGD-stoc-b1","SGD-stoc-b2","SGD-stoc-b4"],"range":[[6,4],[1,0],[1,0],[1,0],[1,0]]},"legend":{"title":null}}}},
 {"data":{"values":[{}]},"mark":{"type":"text","text":"FMNIST p = 0.1","fontSize":18,"fontWeight":"bold","align":"left","baseline":"middle","color":"#000000"},"encoding":{"x":{"datum":282,"type":"quantitative","axis":null},"y":{"datum":71.2,"type":"quantitative","axis":null}}}
],"resolve":{"axis":{"x":"independent","y":"independent"}}},
{"width":295,"height":209,"layer":[
 {"data":{"name":"ams"},"mark":{"type":"line","strokeWidth":1.6,"clip":true},"encoding":{
  "x":{"field":"x","type":"quantitative","scale":{"type":"log","domain":[100,100000000],"nice":false},"axis":{"orient":"bottom","values":[100,200,300,400,500,600,700,800,900,1000,2000,3000,4000,5000,6000,7000,8000,9000,10000,20000,30000,40000,50000,60000,70000,80000,90000,100000,200000,300000,400000,500000,600000,700000,800000,900000,1000000,2000000,3000000,4000000,5000000,6000000,7000000,8000000,9000000,10000000,20000000,30000000,40000000,50000000,60000000,70000000,80000000,90000000,100000000],"labelExpr":"datum.value==100?'10²':datum.value==10000?'10⁴':datum.value==1000000?'10⁶':datum.value==100000000?'10⁸':''","title":"log. Communicated Bits"}},
  "y":{"field":"y","type":"quantitative","scale":{"domain":[0,65],"nice":false},"axis":{"orient":"left","values":[0,20,40,60],"title":"Test Accuracy (%)"}},
  "color":{"field":"s","type":"nominal","scale":{"domain":["AMS-full","AMS-sign","AMS-topk-0.001","AMS-topk-0.01","AMS-topk-0.05"],"range":["#000000","#FF0000","#EDB120","#7E2F8E","#77AC30"]},"legend":{"title":null}},
  "strokeDash":{"field":"s","type":"nominal","scale":{"domain":["AMS-full","AMS-sign","AMS-topk-0.001","AMS-topk-0.01","AMS-topk-0.05"],"range":[[6,4],[1,0],[1,0],[1,0],[1,0]]},"legend":{"title":null}}}},
 {"data":{"name":"p4"},"mark":{"type":"line","strokeWidth":1.6,"clip":true},"encoding":{
  "x":{"field":"x","type":"quantitative","scale":{"type":"log","domain":[100,100000000],"nice":false},"axis":{"orient":"top","values":[100,200,300,400,500,600,700,800,900,1000,2000,3000,4000,5000,6000,7000,8000,9000,10000,20000,30000,40000,50000,60000,70000,80000,90000,100000,200000,300000,400000,500000,600000,700000,800000,900000,1000000,2000000,3000000,4000000,5000000,6000000,7000000,8000000,9000000,10000000,20000000,30000000,40000000,50000000,60000000,70000000,80000000,90000000,100000000],"labels":false,"title":null,"grid":false}},
  "y":{"field":"y","type":"quantitative","scale":{"domain":[0,65],"nice":false},"axis":{"orient":"right","values":[0,20,40,60],"labels":false,"title":null,"grid":false}},
  "color":{"field":"s","type":"nominal","scale":{"domain":["AMS-full","AMS-sign","AMS-topk-0.001","AMS-topk-0.01","AMS-topk-0.05"],"range":["#000000","#FF0000","#EDB120","#7E2F8E","#77AC30"]},"legend":{"title":null}},
  "strokeDash":{"field":"s","type":"nominal","scale":{"domain":["AMS-full","AMS-sign","AMS-topk-0.001","AMS-topk-0.01","AMS-topk-0.05"],"range":[[6,4],[1,0],[1,0],[1,0],[1,0]]},"legend":{"title":null}}}},
 {"data":{"values":[{}]},"mark":{"type":"text","text":"FMNIST p = 0.1","fontSize":18,"fontWeight":"bold","align":"left","baseline":"middle","color":"#000000"},"encoding":{"x":{"datum":190,"type":"quantitative","axis":null},"y":{"datum":59,"type":"quantitative","axis":null}}}
],"resolve":{"axis":{"x":"independent","y":"independent"}}},
{"width":295,"height":209,"layer":[
 {"data":{"name":"ams"},"mark":{"type":"line","strokeWidth":1.6,"clip":true},"encoding":{
  "x":{"field":"x","type":"quantitative","scale":{"type":"log","domain":[100,100000000],"nice":false},"axis":{"orient":"bottom","values":[100,200,300,400,500,600,700,800,900,1000,2000,3000,4000,5000,6000,7000,8000,9000,10000,20000,30000,40000,50000,60000,70000,80000,90000,100000,200000,300000,400000,500000,600000,700000,800000,900000,1000000,2000000,3000000,4000000,5000000,6000000,7000000,8000000,9000000,10000000,20000000,30000000,40000000,50000000,60000000,70000000,80000000,90000000,100000000],"labelExpr":"datum.value==100?'10²':datum.value==10000?'10⁴':datum.value==1000000?'10⁶':datum.value==100000000?'10⁸':''","title":"log. Communicated Bits"}},
  "y":{"field":"y","type":"quantitative","scale":{"domain":[0,63.7],"nice":false},"axis":{"orient":"left","values":[0,20,40,60],"title":"Test Accuracy (%)"}},
  "color":{"field":"s","type":"nominal","scale":{"domain":["AMS-full","AMS-sign","AMS-hv-sign-0.01","AMS-hv-sign-0.05","AMS-hv-sign-0.1"],"range":["#000000","#FF0000","#EDB120","#7E2F8E","#77AC30"]},"legend":{"title":null}},
  "strokeDash":{"field":"s","type":"nominal","scale":{"domain":["AMS-full","AMS-sign","AMS-hv-sign-0.01","AMS-hv-sign-0.05","AMS-hv-sign-0.1"],"range":[[6,4],[1,0],[1,0],[1,0],[1,0]]},"legend":{"title":null}}}},
 {"data":{"name":"p5"},"mark":{"type":"line","strokeWidth":1.6,"clip":true},"encoding":{
  "x":{"field":"x","type":"quantitative","scale":{"type":"log","domain":[100,100000000],"nice":false},"axis":{"orient":"top","values":[100,200,300,400,500,600,700,800,900,1000,2000,3000,4000,5000,6000,7000,8000,9000,10000,20000,30000,40000,50000,60000,70000,80000,90000,100000,200000,300000,400000,500000,600000,700000,800000,900000,1000000,2000000,3000000,4000000,5000000,6000000,7000000,8000000,9000000,10000000,20000000,30000000,40000000,50000000,60000000,70000000,80000000,90000000,100000000],"labels":false,"title":null,"grid":false}},
  "y":{"field":"y","type":"quantitative","scale":{"domain":[0,63.7],"nice":false},"axis":{"orient":"right","values":[0,20,40,60],"labels":false,"title":null,"grid":false}},
  "color":{"field":"s","type":"nominal","scale":{"domain":["AMS-full","AMS-sign","AMS-hv-sign-0.01","AMS-hv-sign-0.05","AMS-hv-sign-0.1"],"range":["#000000","#FF0000","#EDB120","#7E2F8E","#77AC30"]},"legend":{"title":null}},
  "strokeDash":{"field":"s","type":"nominal","scale":{"domain":["AMS-full","AMS-sign","AMS-hv-sign-0.01","AMS-hv-sign-0.05","AMS-hv-sign-0.1"],"range":[[6,4],[1,0],[1,0],[1,0],[1,0]]},"legend":{"title":null}}}},
 {"data":{"values":[{}]},"mark":{"type":"text","text":"FMNIST p = 0.1","fontSize":18,"fontWeight":"bold","align":"left","baseline":"middle","color":"#000000"},"encoding":{"x":{"datum":363,"type":"quantitative","axis":null},"y":{"datum":56.2,"type":"quantitative","axis":null}}}
],"resolve":{"axis":{"x":"independent","y":"independent"}}},
{"width":295,"height":209,"layer":[
 {"data":{"name":"ams"},"mark":{"type":"line","strokeWidth":1.6,"clip":true},"encoding":{
  "x":{"field":"x","type":"quantitative","scale":{"type":"log","domain":[100,100000000],"nice":false},"axis":{"orient":"bottom","values":[100,200,300,400,500,600,700,800,900,1000,2000,3000,4000,5000,6000,7000,8000,9000,10000,20000,30000,40000,50000,60000,70000,80000,90000,100000,200000,300000,400000,500000,600000,700000,800000,900000,1000000,2000000,3000000,4000000,5000000,6000000,7000000,8000000,9000000,10000000,20000000,30000000,40000000,50000000,60000000,70000000,80000000,90000000,100000000],"labelExpr":"datum.value==100?'10²':datum.value==10000?'10⁴':datum.value==1000000?'10⁶':datum.value==100000000?'10⁸':''","title":"log. Communicated Bits"}},
  "y":{"field":"y","type":"quantitative","scale":{"domain":[0,65],"nice":false},"axis":{"orient":"left","values":[0,20,40,60],"title":"Test Accuracy (%)"}},
  "color":{"field":"s","type":"nominal","scale":{"domain":["AMS-full","AMS-sign","AMS-stoc-b1","AMS-stoc-b2","AMS-stoc-b4"],"range":["#000000","#FF0000","#EDB120","#7E2F8E","#77AC30"]},"legend":{"title":null}},
  "strokeDash":{"field":"s","type":"nominal","scale":{"domain":["AMS-full","AMS-sign","AMS-stoc-b1","AMS-stoc-b2","AMS-stoc-b4"],"range":[[6,4],[1,0],[1,0],[1,0],[1,0]]},"legend":{"title":null}}}},
 {"data":{"name":"p6"},"mark":{"type":"line","strokeWidth":1.6,"clip":true},"encoding":{
  "x":{"field":"x","type":"quantitative","scale":{"type":"log","domain":[100,100000000],"nice":false},"axis":{"orient":"top","values":[100,200,300,400,500,600,700,800,900,1000,2000,3000,4000,5000,6000,7000,8000,9000,10000,20000,30000,40000,50000,60000,70000,80000,90000,100000,200000,300000,400000,500000,600000,700000,800000,900000,1000000,2000000,3000000,4000000,5000000,6000000,7000000,8000000,9000000,10000000,20000000,30000000,40000000,50000000,60000000,70000000,80000000,90000000,100000000],"labels":false,"title":null,"grid":false}},
  "y":{"field":"y","type":"quantitative","scale":{"domain":[0,65],"nice":false},"axis":{"orient":"right","values":[0,20,40,60],"labels":false,"title":null,"grid":false}},
  "color":{"field":"s","type":"nominal","scale":{"domain":["AMS-full","AMS-sign","AMS-stoc-b1","AMS-stoc-b2","AMS-stoc-b4"],"range":["#000000","#FF0000","#EDB120","#7E2F8E","#77AC30"]},"legend":{"title":null}},
  "strokeDash":{"field":"s","type":"nominal","scale":{"domain":["AMS-full","AMS-sign","AMS-stoc-b1","AMS-stoc-b2","AMS-stoc-b4"],"range":[[6,4],[1,0],[1,0],[1,0],[1,0]]},"legend":{"title":null}}}},
 {"data":{"values":[{}]},"mark":{"type":"text","text":"FMNIST p = 0.1","fontSize":18,"fontWeight":"bold","align":"left","baseline":"middle","color":"#000000"},"encoding":{"x":{"datum":307,"type":"quantitative","axis":null},"y":{"datum":7.5,"type":"quantitative","axis":null}}}
],"resolve":{"axis":{"x":"independent","y":"independent"}}}
],
"columns":3,
"spacing":{"row":83,"column":76},
"bounds":"flush",
"resolve":{"scale":{"x":"independent","y":"independent","color":"independent","strokeDash":"independent"},"legend":{"color":"independent","strokeDash":"independent"}},
"config":{
 "font":"Liberation Sans",
 "view":{"stroke":"#262626","strokeWidth":1},
 "axis":{"domain":false,"labelFont":"Liberation Sans","labelColor":"#262626","titleFont":"Liberation Sans","titleFontSize":20,"titleFontWeight":"normal","titleColor":"#262626","tickColor":"#262626","tickSize":-3,"gridColor":"#dedede","labelOverlap":false,"labelFlush":false},
 "axisX":{"labelFontSize":19,"labelPadding":18,"titlePadding":4,"gridOpacity":{"condition":{"test":"datum.value==100||datum.value==10000||datum.value==1000000||datum.value==100000000","value":1},"value":0}},
 "axisY":{"labelFontSize":17,"labelPadding":9,"titlePadding":7},
 "legend":{"orient":"bottom-right","offset":1,"padding":4,"fillColor":"white","strokeColor":"#262626","labelFont":"Liberation Sans","labelFontSize":13.5,"labelColor":"#000000","symbolType":"M-1,0H2.86","symbolSize":196,"symbolStrokeWidth":1.8,"rowPadding":2.5,"labelOffset":16,"symbolOffset":0}
}
}
